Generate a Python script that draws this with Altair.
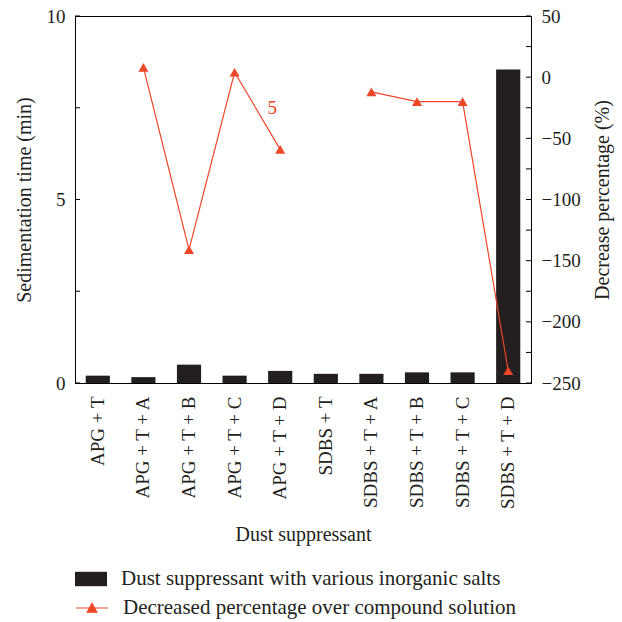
import altair as alt
import pandas as pd

categories = ["APG + T", "APG + T + A", "APG + T + B", "APG + T + C", "APG + T + D",
              "SDBS + T", "SDBS + T + A", "SDBS + T + B", "SDBS + T + C", "SDBS + T + D"]
sed_time = [0.2, 0.16, 0.5, 0.2, 0.33, 0.25, 0.25, 0.29, 0.29, 8.54]
decrease_pct = [None, 8, -141, 4, -59, None, -12, -20, -20, -240]
groups = ["APG", "APG", "APG", "APG", "APG", "SDBS", "SDBS", "SDBS", "SDBS", "SDBS"]

left_ticks = [0, 2.5, 5, 7.5, 10]
right_ticks = [-250, -225, -200, -175, -150, -125, -100, -75, -50, -25, 0, 25, 50]

bar_name = "Dust suppressant with various inorganic salts"
line_name = "Decreased percentage over compound solution"

annot_cat = ["APG + T + D"]
annot_val = [-25]
annot_text = ["5"]

BAR = "#231f20"
RED = "#ee4628"
FONT = "Liberation Serif"
W, H = 456, 367
TL = 5

df = pd.DataFrame({"cat": categories, "sed": sed_time, "pct": decrease_pct,
                   "grp": groups, "bs": bar_name, "ls": line_name})
dfl = df.dropna(subset=["pct"])
dfa = pd.DataFrame({"cat": annot_cat, "pct": annot_val, "t": annot_text})

xenc = alt.X("cat:N", sort=categories, title="Dust suppressant",
             scale=alt.Scale(paddingInner=0.47, paddingOuter=0.235),
             axis=alt.Axis(labelAngle=270, labelAlign="right", labelBaseline="middle",
                           ticks=False, labelPadding=13, titlePadding=15,
                           labelFontSize=19, titleFontSize=20))

yl = alt.Y("sed:Q", title="Sedimentation time (min)",
           scale=alt.Scale(domain=[0, 10], nice=False),
           axis=alt.Axis(values=left_ticks,
                         labelExpr="datum.value % 5 == 0 ? datum.label : ''",
                         ticks=False, tickSize=0, labelPadding=10, titlePadding=12,
                         labelFontSize=19, titleFontSize=20, grid=False))

bars = alt.Chart(df).mark_bar().encode(
    x=xenc,
    y=yl,
    fill=alt.Fill("bs:N", scale=alt.Scale(domain=[bar_name], range=[BAR]),
                  legend=alt.Legend(title=None, orient="none", legendX=0, legendY=547,
                                    symbolType="M-1,-0.45L1,-0.45L1,0.45L-1,0.45Z",
                                    symbolSize=1024, labelFontSize=21, labelFont=FONT,
                                    labelColor=BAR, labelLimit=0,
                                    labelOffset=14, symbolStrokeWidth=0)),
)

lticks = alt.Chart(pd.DataFrame({"sed": left_ticks})).mark_rule(
    color="black", strokeWidth=1).encode(
    y=yl, x=alt.value(0), x2=alt.value(TL))

left = alt.layer(bars, lticks)

yr = alt.Y("pct:Q", title="Decrease percentage (%)",
           scale=alt.Scale(domain=[-250, 50], nice=False),
           axis=alt.Axis(orient="right", values=right_ticks,
                         labelExpr="datum.value % 50 == 0 ? datum.label : ''",
                         ticks=False, tickSize=0, labelPadding=10, titlePadding=12,
                         titleAngle=270, titleBaseline="top",
                         labelFontSize=19, titleFontSize=20, grid=False))

line = alt.Chart(dfl).mark_line(strokeWidth=1.2).encode(
    x=alt.X("cat:N", sort=categories),
    y=yr,
    detail="grp:N",
    stroke=alt.Stroke("ls:N", scale=alt.Scale(domain=[line_name], range=[RED]),
                      legend=alt.Legend(title=None, orient="none", legendX=0, legendY=575,
                                        symbolType="M-1,0L1,0M-0.3,0.26L0,-0.3L0.3,0.26Z",
                                        symbolSize=1024, symbolFillColor=RED,
                                        symbolStrokeWidth=1.2, labelFontSize=21,
                                        labelFont=FONT, labelColor=BAR, labelLimit=0,
                                        labelOffset=14)),
)

pts = alt.Chart(dfl).mark_point(shape="triangle-up", filled=True, size=100, opacity=1,
                                color=RED).encode(
    x=alt.X("cat:N", sort=categories),
    y=yr,
)

txt = alt.Chart(dfa).mark_text(color=RED, fontSize=19, font=FONT, dx=-8).encode(
    x=alt.X("cat:N", sort=categories),
    y=yr,
    text="t:N",
)

rticks = alt.Chart(pd.DataFrame({"pct": right_ticks})).mark_rule(
    color="black", strokeWidth=1).encode(
    y=yr, x=alt.value(W - TL), x2=alt.value(W))

right = alt.layer(line, pts, txt, rticks)

chart = alt.layer(left, right).resolve_scale(
    y="independent", fill="independent", stroke="independent"
).properties(
    width=W, height=H,
    autosize=alt.AutoSizeParams(type="none"),
    padding={"left": 75, "top": 16, "right": 91, "bottom": 239},
    background="white",
).configure_view(stroke="black", strokeWidth=1).configure_axis(
    domainColor="black", tickColor="black", labelColor=BAR, titleColor=BAR,
    labelFont=FONT, titleFont=FONT, titleFontWeight="normal", domainWidth=1,
)

chart.save("out.html", embed_options={"renderer": "svg", "actions": False})
